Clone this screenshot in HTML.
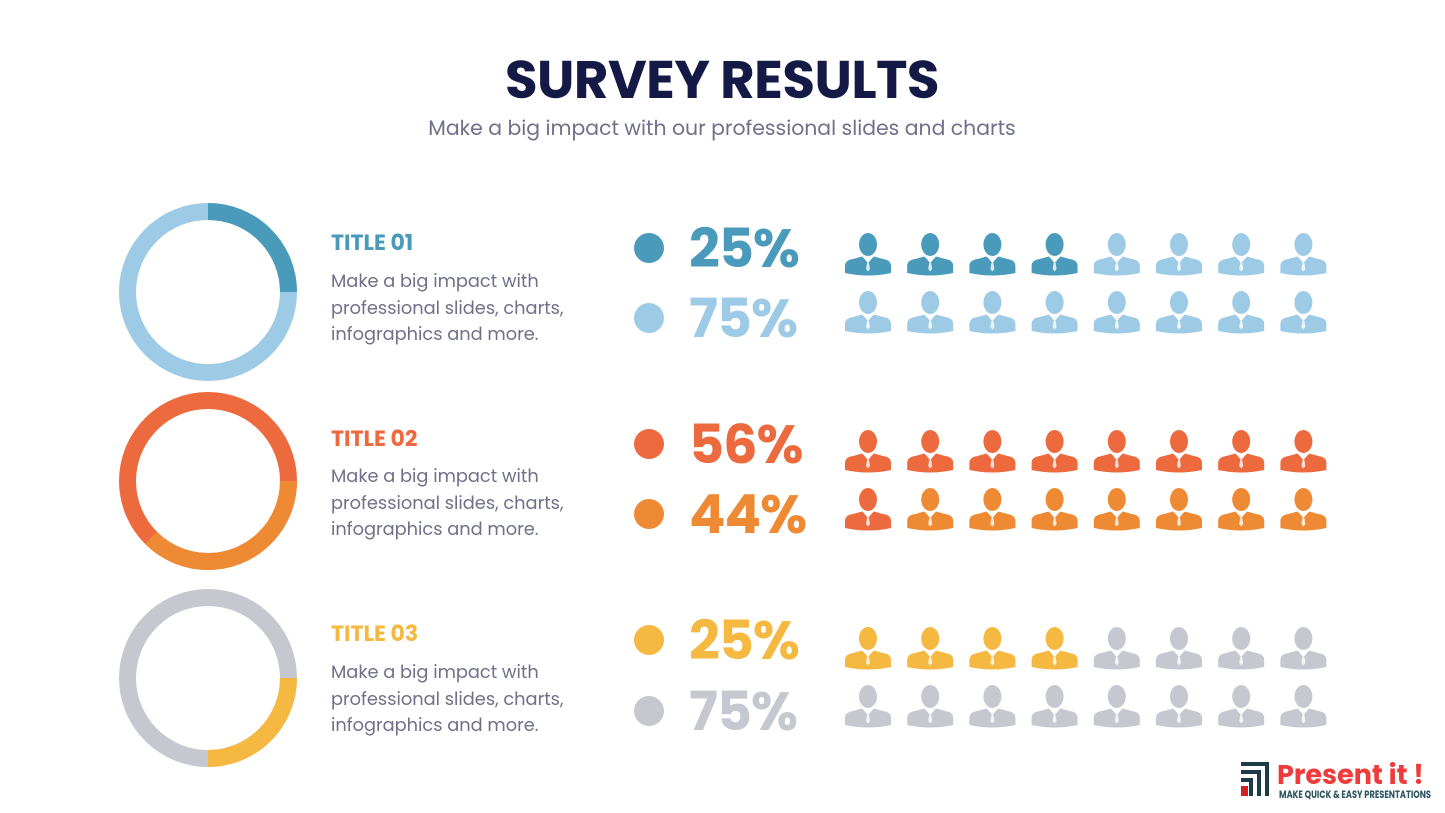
<!DOCTYPE html>
<html><head><meta charset="utf-8"><style>
body{margin:0;background:#fff;}
svg{display:block;font-family:"Poppins","Liberation Sans",sans-serif;}
</style></head><body>
<svg width="1445" height="813" viewBox="0 0 1445 813" xmlns="http://www.w3.org/2000/svg">
<defs>
<g id="p">
<ellipse cx="23" cy="11.5" rx="9" ry="11.5"/>
<path d="M0,33 Q0,27 8,26 L17,23.5 L23,29 L29,23.5 L38,26 Q46,27 46,33 L46,40 Q23,45 0,40 Z"/>
<path d="M19,24.5 L23,29.5 L27,24.5" fill="none" stroke="#fff" stroke-width="1"/>
<path d="M22,30 L24,30 L25,36 L23,38.5 L21,36 Z" fill="#fff" opacity="0.8"/>
</g>
</defs>
<text x="722" y="98" text-anchor="middle" font-size="53" font-weight="bold" fill="#141a45" letter-spacing="-0.5">SURVEY RESULTS</text>
<text x="722" y="135" text-anchor="middle" font-size="20.4" fill="#6e7189">Make a big impact with our professional slides and charts</text>

<g fill="none" stroke-width="17" transform="rotate(-90)">
<g transform="translate(-292,208)">
<circle r="80.5" stroke="#9dcbe5"/>
<circle r="80.5" stroke="#4a9bbb" stroke-dasharray="126.45 600"/>
</g>
<g transform="translate(-481,208)">
<circle r="80.5" stroke="#ec6a3e"/>
<circle r="80.5" stroke="#ef8a34" stroke-dasharray="189.7 600" stroke-dashoffset="-126.45"/>
</g>
<g transform="translate(-678,208)">
<circle r="80.5" stroke="#c5c8ce"/>
<circle r="80.5" stroke="#f5b942" stroke-dasharray="126.45 600" stroke-dashoffset="-126.45"/>
</g>
</g>

<g font-size="22" font-weight="bold">
<text x="331" y="250" fill="#4a9bbb">TITLE 01</text>
<text x="331" y="446" fill="#ec6a3e">TITLE 02</text>
<text x="331" y="641" fill="#f5b942">TITLE 03</text>
</g>
<g font-size="17.8" fill="#6e7189">
<text x="331" y="287">Make a big impact with</text>
<text x="331" y="314">professional slides, charts,</text>
<text x="331" y="340">infographics and more.</text>
<text x="331" y="482">Make a big impact with</text>
<text x="331" y="509">professional slides, charts,</text>
<text x="331" y="535">infographics and more.</text>
<text x="331" y="678">Make a big impact with</text>
<text x="331" y="705">professional slides, charts,</text>
<text x="331" y="731">infographics and more.</text>
</g>

<circle cx="649" cy="248" r="15" fill="#4a9bbb"/>
<circle cx="649" cy="318" r="15" fill="#9dcbe5"/>
<circle cx="649" cy="444" r="15" fill="#ec6a3e"/>
<circle cx="649" cy="514" r="15" fill="#ef8a34"/>
<circle cx="649" cy="640" r="15" fill="#f5b942"/>
<circle cx="649" cy="711" r="15" fill="#c5c8ce"/>
<g font-size="54" font-weight="bold" letter-spacing="-1">
<text x="689" y="267" fill="#4a9bbb">25%</text>
<text x="689" y="337" fill="#9dcbe5">75%</text>
<text x="689" y="463" fill="#ec6a3e">56%</text>
<text x="689" y="533" fill="#ef8a34">44%</text>
<text x="689" y="659" fill="#f5b942">25%</text>
<text x="689" y="730" fill="#c5c8ce">75%</text>
</g>

<g id="icons"></g>

<g>
<rect x="1241" y="762" width="28" height="4" fill="#1e3a44"/>
<rect x="1265" y="762" width="4" height="34" fill="#1e3a44"/>
<rect x="1241" y="770" width="20" height="4" fill="#1e3a44"/>
<rect x="1257" y="770" width="4" height="26" fill="#1e3a44"/>
<rect x="1241" y="778" width="12" height="4" fill="#1e3a44"/>
<rect x="1249" y="778" width="4" height="18" fill="#1e3a44"/>
<rect x="1241" y="786" width="7" height="10" fill="#d42020"/>
<text x="1277" y="784" font-size="27" font-weight="bold" fill="#ee3b3b">Present it !</text>
<text x="1279" y="798" font-size="10.5" font-weight="bold" fill="#2d5560" textLength="152" lengthAdjust="spacingAndGlyphs">MAKE QUICK &amp; EASY PRESENTATIONS</text>
</g>
</svg>
<script>
var rows=[[233,'#4a9bbb','#9dcbe5',4],[291,'#9dcbe5','#9dcbe5',0],[430,'#ec6a3e','#ec6a3e',8],[488,'#ec6a3e','#ef8a34',1],[627,'#f5b942','#c5c8ce',4],[685,'#c5c8ce','#c5c8ce',0]];
var s='';
rows.forEach(function(r){for(var i=0;i<8;i++){var x=845+i*62.2;s+='<use href="#p" x="'+x.toFixed(1)+'" y="'+r[0]+'" fill="'+(i<r[3]?r[1]:r[2])+'"/>';}});
document.getElementById('icons').innerHTML=s;
</script>
</body></html>
